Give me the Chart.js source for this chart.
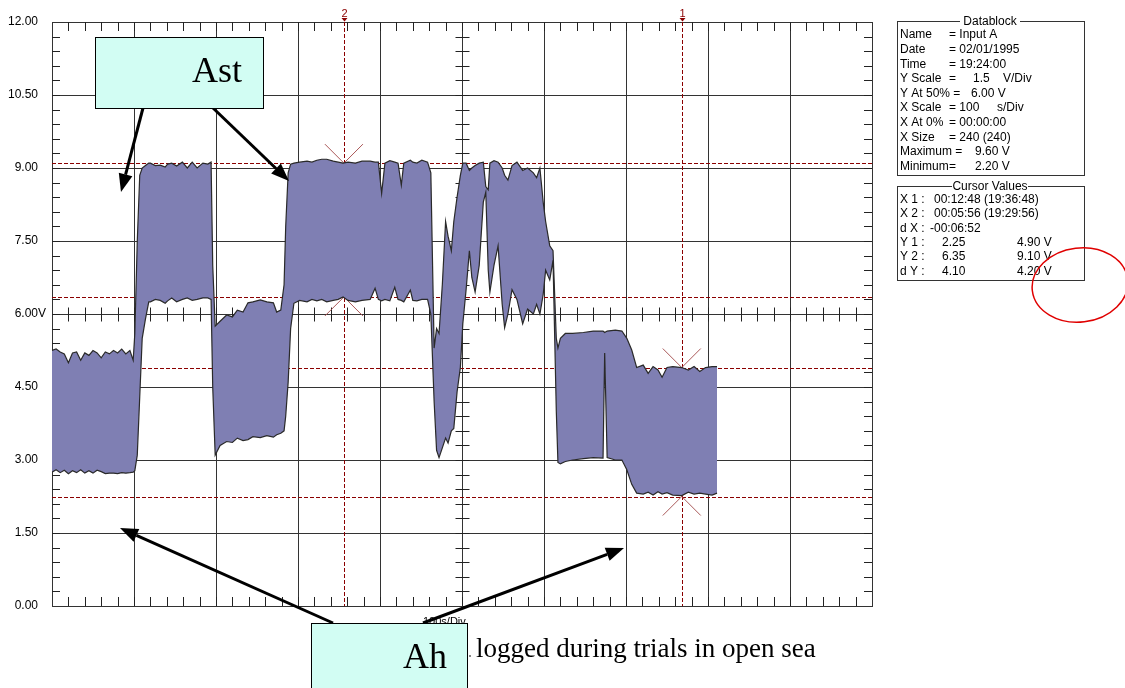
<!DOCTYPE html>
<html><head><meta charset="utf-8">
<script src="https://cdn.jsdelivr.net/npm/chart.js@4.4.1/dist/chart.umd.min.js"></script>
<style>html,body{margin:0;padding:0;background:#fff;overflow:hidden}#wrap{width:1125px;height:688px;position:relative}canvas{display:block}</style>
</head><body><div id="wrap"><canvas id="c" width="1125" height="688"></canvas></div>
<script>
// ---- data (time in s, values in V) ----
const timeS = [0,5,10,15,20,25,30,35,40,45,50,55,60,65,70,75,80,85,90,95,99,
 101,104,107,110,114,118,
 120,126,132,138,141,146,152,159,165,171,177,184,190,194,
 196,199,205,213,220,226,233,239,245,254,262,270,274,279,
 283,285,288,291,295,
 302,311,317,323,329,335,343,349,355,361,370,378,388,394,398,402,406,412,418,422,426,429,437,440,445,451,458,462,
 466,469,472,476,480,483,487,490,494,498,501,505,509,512,516,521,526,529,532,534,539,544,549,552,556,561,567,574,580,587,591,595,599,602,607,611,615,617,
 620,626,635,648,660,672,674,677,687,695,701,707,713,721,727,733,739,744,750,757,768,776,783,790,797,805,811];
const upperV = [5.25,5.28,5.22,5.18,5.00,5.20,5.22,5.05,5.20,5.15,5.25,5.20,5.10,5.22,5.18,5.25,5.20,5.28,5.18,5.25,5.05,
 5.6,7.5,8.85,9.0,9.05,9.1,
 9.10,9.05,9.06,9.02,9.08,9.10,9.04,9.12,9.00,9.12,9.00,9.10,9.08,9.12,
 7.0,5.75,5.85,5.98,5.94,6.08,6.04,6.23,6.25,6.29,6.25,6.23,6.04,6.08,
 6.6,7.8,8.9,9.08,9.1,
 9.12,9.14,9.12,9.16,9.18,9.18,9.14,9.12,9.10,9.12,9.10,9.14,9.14,9.12,9.12,8.48,9.10,9.15,9.12,9.10,8.65,9.10,9.16,9.12,9.10,9.16,9.12,8.9,
 5.3,5.7,5.6,6.6,7.9,7.6,7.3,7.9,8.4,8.85,9.1,9.1,8.95,9.0,9.05,9.1,9.12,8.62,8.55,9.1,9.15,9.12,9.0,8.85,8.75,9.05,9.12,8.95,9.0,8.9,8.8,9.0,8.3,7.9,7.4,7.3,5.5,5.3,
 5.5,5.6,5.6,5.62,5.65,5.65,5.62,5.65,5.67,5.65,5.5,5.26,4.9,4.95,4.78,4.92,4.85,4.7,4.9,4.92,4.9,4.85,4.92,4.82,4.9,4.92,4.92];
const lowerV = [2.75,2.80,2.74,2.79,2.72,2.78,2.74,2.80,2.73,2.78,2.73,2.79,2.76,2.72,2.73,2.73,2.72,2.74,2.73,2.74,2.75,
 2.78,3.1,4.3,5.5,5.9,6.25,
 6.25,6.30,6.28,6.22,6.27,6.33,6.25,6.30,6.33,6.28,6.30,6.33,6.33,6.30,
 4.5,3.10,3.30,3.38,3.36,3.45,3.40,3.42,3.48,3.46,3.50,3.47,3.52,3.55,
 3.6,3.9,4.6,5.7,6.22,
 6.28,6.25,6.30,6.27,6.30,6.25,6.28,6.30,6.35,6.28,6.25,6.28,6.30,6.53,6.30,6.27,6.30,6.27,6.55,6.30,6.28,6.25,6.49,6.28,6.27,6.30,6.30,6.0,
 4.2,3.2,3.05,3.25,3.45,3.35,3.6,3.65,4.4,4.9,5.8,6.5,7.3,6.75,6.45,7.0,8.3,8.5,6.9,6.45,7.0,7.4,6.2,5.72,6.0,6.5,6.3,5.8,6.1,6.0,6.2,6.0,6.4,6.9,6.7,7.1,4.0,2.95,
 2.92,2.97,3.0,3.03,3.05,3.04,5.2,3.05,3.0,3.0,2.8,2.5,2.32,2.3,2.34,2.28,2.35,2.3,2.33,2.28,2.27,2.34,2.3,2.32,2.3,2.28,2.32];
const yTickValues = [0,1.5,3,4.5,6,7.5,9,10.5,12];
const xTickValues = [0,100,200,300,400,500,600,700,800,900,1000];
const cursorNames = ['1','2'];
const cursorTimes = [768, 356];
const cursorLevels = [[2.25,4.90],[6.35,9.10]];

const upperPts = timeS.map((t,i)=>({x:t,y:upperV[i]}));
const lowerPts = timeS.map((t,i)=>({x:t,y:lowerV[i]}));

function arrow(ctx,x1,y1,x2,y2){
  const a=Math.atan2(y2-y1,x2-x1), L=18, W=7;
  const bx=x2-L*Math.cos(a), by=y2-L*Math.sin(a);
  ctx.lineWidth=3; ctx.strokeStyle='#000'; ctx.fillStyle='#000';
  ctx.beginPath(); ctx.moveTo(x1,y1); ctx.lineTo(bx,by); ctx.stroke();
  ctx.beginPath(); ctx.moveTo(x2,y2);
  ctx.lineTo(bx+W*Math.sin(a), by-W*Math.cos(a));
  ctx.lineTo(bx-W*Math.sin(a), by+W*Math.cos(a));
  ctx.closePath(); ctx.fill();
}
function texts(ctx,rows,y0,dy){
  rows.forEach((r,i)=>{ r.forEach(([s,x])=>ctx.fillText(s,x,y0+i*dy)); });
}

const overlay = {
  id:'overlay',
  beforeDatasetsDraw(chart){
    const {ctx, chartArea:a, scales:{x,y}} = chart;
    ctx.save();
    ctx.strokeStyle='#222'; ctx.lineWidth=1;
    ctx.beginPath();
    const cx = Math.round(x.getPixelForValue(500))+0.5;
    const cy = Math.round(y.getPixelForValue(6))+0.5;
    for(let k=1;k<40;k++){
      const py=Math.round(y.getPixelForValue(k*0.3))+0.5;
      ctx.moveTo(a.left,py); ctx.lineTo(a.left+8,py);
      ctx.moveTo(a.right-8,py); ctx.lineTo(a.right,py);
      ctx.moveTo(cx-7,py); ctx.lineTo(cx+7,py);
    }
    for(let k=1;k<50;k++){
      const px=Math.round(x.getPixelForValue(k*20))+0.5;
      ctx.moveTo(px,a.top); ctx.lineTo(px,a.top+9);
      ctx.moveTo(px,a.bottom-9); ctx.lineTo(px,a.bottom);
      ctx.moveTo(px,cy-7); ctx.lineTo(px,cy+7);
    }
    ctx.stroke();
    // cursor lines
    ctx.setLineDash([4,2]); ctx.strokeStyle='#8b0000';
    ctx.beginPath();
    cursorLevels.forEach(lv=>lv.forEach(v=>{
      const py=Math.round(y.getPixelForValue(v))+0.5;
      ctx.moveTo(a.left,py); ctx.lineTo(a.right,py);
    }));
    cursorTimes.forEach(t=>{
      const px=Math.round(x.getPixelForValue(t))+0.5;
      ctx.moveTo(px,a.top); ctx.lineTo(px,a.bottom);
    });
    ctx.stroke();
    ctx.setLineDash([]);
    // X marks
    ctx.strokeStyle='rgba(165,80,80,0.95)'; ctx.lineWidth=1;
    ctx.beginPath();
    cursorTimes.forEach((t,i)=>{
      const px=x.getPixelForValue(t);
      cursorLevels[i].forEach(v=>{
        const py=y.getPixelForValue(v), s=19;
        ctx.moveTo(px-s,py-s); ctx.lineTo(px+s,py+s);
        ctx.moveTo(px+s,py-s); ctx.lineTo(px-s,py+s);
      });
    });
    ctx.stroke();
    ctx.restore();
  },
  afterDraw(chart){
    const {ctx, chartArea:a, scales:{x,y}} = chart;
    ctx.save();
    // "V" suffix on 6.00 label
    ctx.font='12px "Liberation Sans", Arial, sans-serif';
    ctx.fillStyle='#000'; ctx.textAlign='left'; ctx.textBaseline='middle';
    ctx.fillText('V',38,y.getPixelForValue(6));
    // cursor markers on top
    ctx.fillStyle='#8b0000'; ctx.font='11px "Liberation Sans", Arial, sans-serif';
    ctx.textAlign='center'; ctx.textBaseline='alphabetic';
    cursorTimes.forEach((t,i)=>{
      const px=Math.round(x.getPixelForValue(t))+0.5;
      ctx.fillText(cursorNames[i],px,17);
      ctx.beginPath(); ctx.moveTo(px-3,18); ctx.lineTo(px+3,18); ctx.lineTo(px,21.5); ctx.closePath(); ctx.fill();
    });
    // x scale label
    ctx.fillStyle='#000'; ctx.font='11px "Liberation Sans", Arial, sans-serif';
    ctx.textAlign='left'; ctx.textBaseline='middle';
    ctx.fillText('100s/Div',423,622);
    // caption
    ctx.fillStyle='#888'; ctx.fillRect(469,655,2,2);
    ctx.fillStyle='#000';
    ctx.font='27px "Liberation Serif", "Times New Roman", serif';
    ctx.textBaseline='alphabetic';
    ctx.fillText('logged during trials in open sea',476,657);
    // arrows
    arrow(ctx,143,108,121,192);
    arrow(ctx,213,108,289,181);
    arrow(ctx,333,623,120,528);
    arrow(ctx,423,623,624,548);
    // annotation boxes
    ctx.lineWidth=1; ctx.strokeStyle='#000'; ctx.fillStyle='#d2fdf3';
    ctx.fillRect(95.5,37.5,168,71); ctx.strokeRect(95.5,37.5,168,71);
    ctx.fillRect(311.5,623.5,156,80); ctx.strokeRect(311.5,623.5,156,80);
    ctx.fillStyle='#000'; ctx.font='36px "Liberation Serif", "Times New Roman", serif';
    ctx.textAlign='left';
    ctx.fillText('Ast',192,82);
    ctx.fillText('Ah',403,668);
    // datablock
    ctx.strokeStyle='#333'; ctx.lineWidth=1;
    ctx.strokeRect(897.5,21.5,187,154);
    ctx.strokeRect(897.5,186.5,187,94);
    ctx.font='12px "Liberation Sans", Arial, sans-serif';
    ctx.textBaseline='middle'; ctx.textAlign='center';
    ctx.fillStyle='#fff'; ctx.fillRect(960,15,60,12); ctx.fillRect(952,180,76,12);
    ctx.fillStyle='#000';
    ctx.fillText('Datablock',990,21.5); ctx.fillText('Cursor Values',990,186.5);
    ctx.textAlign='left';
    texts(ctx,[
      [['Name',900],['= Input A',949]],
      [['Date',900],['= 02/01/1995',949]],
      [['Time',900],['= 19:24:00',949]],
      [['Y Scale',900],['=',949],['1.5',973],['V/Div',1003]],
      [['Y At 50% =',900],['6.00 V',971]],
      [['X Scale',900],['= 100',949],['s/Div',997]],
      [['X At 0%',900],['= 00:00:00',949]],
      [['X Size',900],['= 240 (240)',949]],
      [['Maximum =',900],['9.60 V',975]],
      [['Minimum',900],['=',949],['2.20 V',975]]
    ],35,14.6);
    texts(ctx,[
      [['X 1 :',900],['00:12:48 (19:36:48)',934]],
      [['X 2 :',900],['00:05:56 (19:29:56)',934]],
      [['d X :',900],['-00:06:52',930]],
      [['Y 1 :',900],['2.25',942],['4.90 V',1017]],
      [['Y 2 :',900],['6.35',942],['9.10 V',1017]],
      [['d Y :',900],['4.10',942],['4.20 V',1017]]
    ],199.5,14.4);
    // red ellipse
    ctx.strokeStyle='#e00000'; ctx.lineWidth=1.5;
    ctx.beginPath(); ctx.ellipse(1080,285,48,37,-0.12,0,Math.PI*2); ctx.stroke();
    ctx.restore();
  }
};

new Chart(document.getElementById('c'),{
  type:'line',
  data:{datasets:[
    {data:upperPts, borderColor:'#2a2a2a', borderWidth:1.2, pointRadius:0, fill:false, tension:0},
    {data:lowerPts, borderColor:'#2a2a2a', borderWidth:1.2, pointRadius:0, fill:'-1', backgroundColor:'#7f7fb3', tension:0}
  ]},
  options:{
    responsive:false, animation:false, devicePixelRatio:1,
    layout:{padding:{top:22,right:253,bottom:82,left:0}},
    plugins:{legend:{display:false}, tooltip:{enabled:false}},
    scales:{
      x:{type:'linear', min:0, max:1000,
        afterBuildTicks:s=>{s.ticks=xTickValues.map(v=>({value:v}));},
        afterFit:s=>{s.height=0;},
        ticks:{display:false},
        grid:{color:'#333', lineWidth:1, drawTicks:false},
        border:{color:'#333'}},
      y:{min:0, max:12,
        afterBuildTicks:s=>{s.ticks=yTickValues.map(v=>({value:v}));},
        afterFit:s=>{s.width=52;},
        ticks:{padding:14, autoSkip:false, color:'#000',
          font:{family:'"Liberation Sans", Arial, sans-serif', size:12},
          callback:v=>Number(v).toFixed(2)},
        grid:{color:'#333', lineWidth:1, drawTicks:false},
        border:{color:'#333'}}
    }
  },
  plugins:[overlay]
});
</script></body></html>
